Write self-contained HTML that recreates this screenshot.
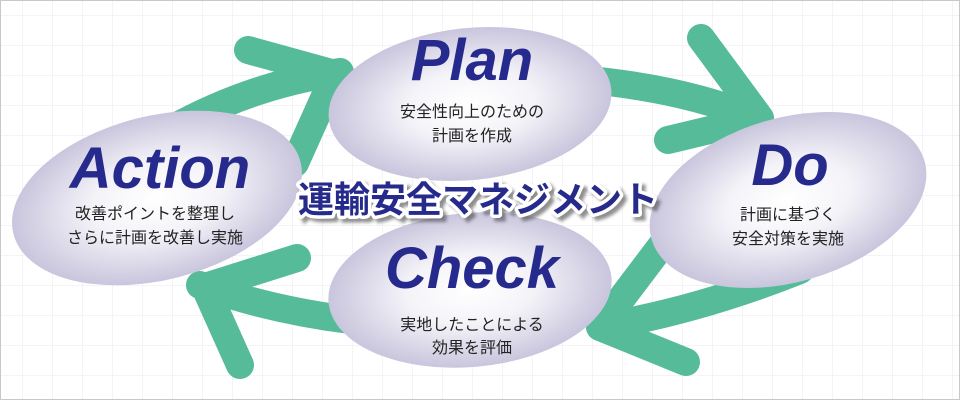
<!DOCTYPE html>
<html><head><meta charset="utf-8"><style>
html,body{margin:0;padding:0;background:#fff}
svg{display:block}
</style></head><body>
<svg width="960" height="400" viewBox="0 0 960 400" xmlns="http://www.w3.org/2000/svg">
<defs>
<pattern id="g" x="22" y="15" width="30" height="30" patternUnits="userSpaceOnUse">
<path d="M0 0V30M0 0H30" stroke="#e8e8ee" stroke-width="1" fill="none"/>
</pattern>
<radialGradient id="e" cx="0.5" cy="0.5" r="0.5">
<stop offset="0" stop-color="#ffffff"/>
<stop offset="0.45" stop-color="#f4f3f8"/>
<stop offset="1" stop-color="#c9c5dd"/>
</radialGradient>
<filter id="sh"><feGaussianBlur stdDeviation="1.5"/></filter>
</defs>
<rect width="960" height="400" fill="#fff"/>
<rect width="960" height="400" fill="url(#g)"/>
<rect x="0.5" y="0.5" width="959" height="399" fill="none" stroke="#c8c8c8"/>
<g stroke="#55bb99" stroke-width="28" stroke-linecap="round" stroke-linejoin="round" fill="none">
<path d="M170 130 Q250 85 340 72"/>
<path d="M248 50 L335 74 L295 163"/>
<path d="M590 80 Q690 90 760 120"/>
<path d="M701 38 L760 118 L668 140"/>
<path d="M800 270 Q700 310 600 327"/>
<path d="M662 245 L600 327 L686 362"/>
<path d="M350 320 Q270 310 200 285"/>
<path d="M240 365 L205 287 L297 258"/>
</g>
<ellipse cx="470" cy="104" rx="142" ry="76" transform="rotate(-6 470 104)" fill="url(#e)"/>
<ellipse cx="788" cy="200" rx="142" ry="82" transform="rotate(-16 788 200)" fill="url(#e)"/>
<ellipse cx="470" cy="290" rx="142" ry="77" transform="rotate(-5 470 290)" fill="url(#e)"/>
<ellipse cx="157" cy="198" rx="148" ry="82" transform="rotate(-14 157 198)" fill="url(#e)"/>
<g font-family="'Liberation Sans',sans-serif" font-weight="bold" font-style="italic" fill="#252a8c" text-anchor="middle">
<text x="472" y="80" font-size="58">Plan</text>
<text x="790" y="185" font-size="58">Do</text>
<text x="472" y="288" font-size="58">Check</text>
<text x="160" y="188" font-size="58">Action</text>
</g>
<g font-family="'Liberation Sans','Noto Sans CJK JP',sans-serif" font-size="16" fill="#222" text-anchor="middle">
<text x="472" y="117">安全性向上のための</text>
<text x="472" y="141">計画を作成</text>
<text x="788" y="220">計画に基づく</text>
<text x="788" y="244">安全対策を実施</text>
<text x="472" y="330">実地したことによる</text>
<text x="472" y="353">効果を評価</text>
<text x="155" y="219">改善ポイントを整理し</text>
<text x="155" y="243">さらに計画を改善し実施</text>
</g>
<g font-family="'Noto Sans CJK JP',sans-serif" font-size="36" font-weight="bold" text-anchor="middle">
<text x="482" y="216" fill="#444" opacity="0.6" filter="url(#sh)" stroke="#444" stroke-width="6">運輸安全マネジメント</text>
<text x="478" y="212" fill="#fff" stroke="#fff" stroke-width="7" stroke-linejoin="round">運輸安全マネジメント</text>
<text x="478" y="212" fill="#262a8a">運輸安全マネジメント</text>
</g>
</svg>
</body></html>
